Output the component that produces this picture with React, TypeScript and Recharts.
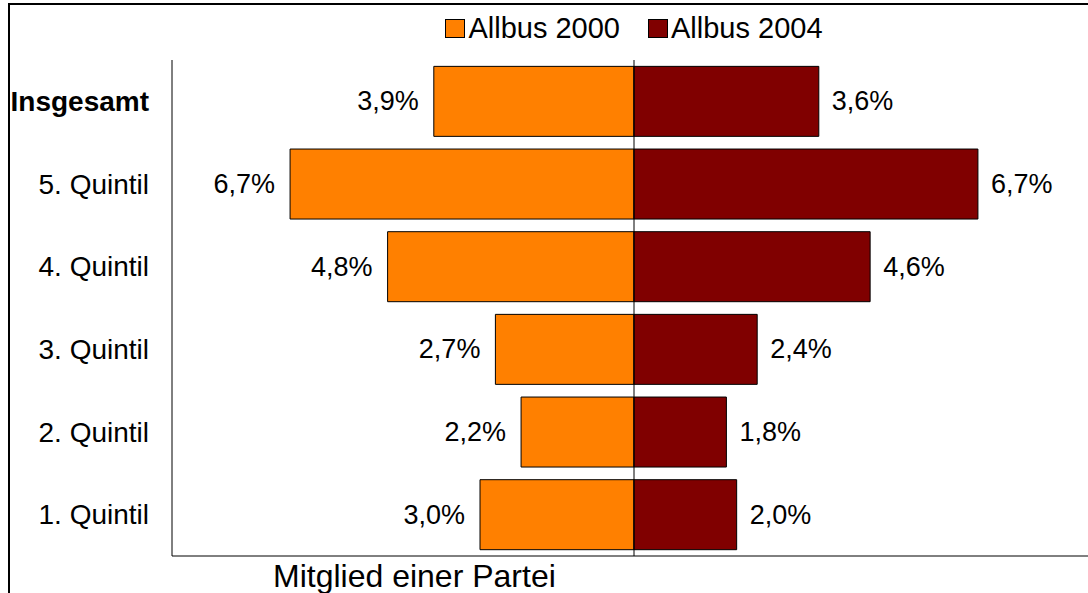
import React from 'react';
import { BarChart, Bar, XAxis, YAxis, ReferenceLine, LabelList } from 'recharts';

const categories = ['Insgesamt', '5. Quintil', '4. Quintil', '3. Quintil', '2. Quintil', '1. Quintil'];
const allbus2000 = [3.9, 6.7, 4.8, 2.7, 2.2, 3.0];
const allbus2004 = [3.6, 6.7, 4.6, 2.4, 1.8, 2.0];
const seriesNames = ['Allbus 2000', 'Allbus 2004'];
const seriesColors = ['#FF8000', '#800000'];
const axisTitle = 'Mitglied einer Partei';

const data = categories.map((c, i) => ({
  name: c,
  a2000: -allbus2000[i],
  a2004: allbus2004[i],
}));

const FONT = "Arial, 'Liberation Sans', sans-serif";
const LABEL_FS = 27;
const CAT_FS = 28;
const LEGEND_FS = 29;
const TITLE_FS = 32;

const fmt = (v: number) => Math.abs(Number(v)).toFixed(1).replace('.', ',') + '%';

const LeftLabel = (props: any) => {
  const { x, y, width, height, value } = props;
  const left = Math.min(Number(x), Number(x) + Number(width));
  return (
    <text x={left - 15} y={Number(y) + Number(height) / 2} textAnchor="end" dominantBaseline="central"
      fontFamily={FONT} fontSize={LABEL_FS} fill="#000">{fmt(value)}</text>
  );
};

const RightLabel = (props: any) => {
  const { x, y, width, height, value } = props;
  const right = Math.max(Number(x), Number(x) + Number(width));
  return (
    <text x={right + 13} y={Number(y) + Number(height) / 2} textAnchor="start" dominantBaseline="central"
      fontFamily={FONT} fontSize={LABEL_FS} fill="#000">{fmt(value)}</text>
  );
};

const CatTick = (props: any) => {
  const { x, y, payload } = props;
  const bold = payload.value === 'Insgesamt';
  return (
    <text x={x} y={y} textAnchor="end" dominantBaseline="central" fontFamily={FONT} fontSize={CAT_FS}
      fontWeight={bold ? 'bold' : 'normal'} fill="#000">{payload.value}</text>
  );
};

export default function App() {
  return (
    <div style={{ position: 'absolute', left: 0, top: 0, width: 1088, height: 593, overflow: 'hidden', background: '#fff', fontFamily: FONT }}>
      <div style={{ position: 'absolute', left: 8, top: 3, width: 2000, height: 2000, borderTop: '2px solid #000', borderLeft: '2px solid #000', boxSizing: 'border-box' }} />
      <div style={{ position: 'absolute', left: 0, top: 0 }}>
        <BarChart width={1096} height={593} data={data} layout="vertical" stackOffset="sign"
          barCategoryGap="7.7%" margin={{ top: 60, right: 0, bottom: 27, left: 0 }}>
          <XAxis type="number" domain={[-9, 9]} allowDataOverflow tick={false} tickLine={false} height={10}
            axisLine={{ stroke: '#000', strokeWidth: 1 }} />
          <YAxis type="category" dataKey="name" width={172} tickLine={false} tickSize={0} tickMargin={23}
            axisLine={{ stroke: '#000', strokeWidth: 1 }} tick={<CatTick />} interval={0} />
          <Bar dataKey="a2000" name={seriesNames[0]} stackId="s" fill={seriesColors[0]} stroke="#000" strokeWidth={1} isAnimationActive={false}>
            <LabelList dataKey="a2000" content={<LeftLabel />} />
          </Bar>
          <Bar dataKey="a2004" name={seriesNames[1]} stackId="s" fill={seriesColors[1]} stroke="#000" strokeWidth={1} isAnimationActive={false}>
            <LabelList dataKey="a2004" content={<RightLabel />} />
          </Bar>
          <ReferenceLine x={0} stroke="#000" strokeWidth={1} />
        </BarChart>
      </div>
      <div style={{ position: 'absolute', left: 0, top: 12, width: 1268, display: 'flex', justifyContent: 'center', alignItems: 'center', fontSize: LEGEND_FS, color: '#000', lineHeight: '32px' }}>
        {seriesNames.map((n, i) => (
          <div key={n} style={{ display: 'flex', alignItems: 'center', marginRight: i === 0 ? 28 : 0 }}>
            <span style={{ display: 'inline-block', width: 18, height: 17, background: seriesColors[i], border: '1px solid #000', marginRight: 3 }} />
            <span>{n}</span>
          </div>
        ))}
      </div>
      <div style={{ position: 'absolute', left: 273, top: 557, fontSize: TITLE_FS, color: '#000', lineHeight: '38px', whiteSpace: 'nowrap' }}>
        {axisTitle}
      </div>
    </div>
  );
}
